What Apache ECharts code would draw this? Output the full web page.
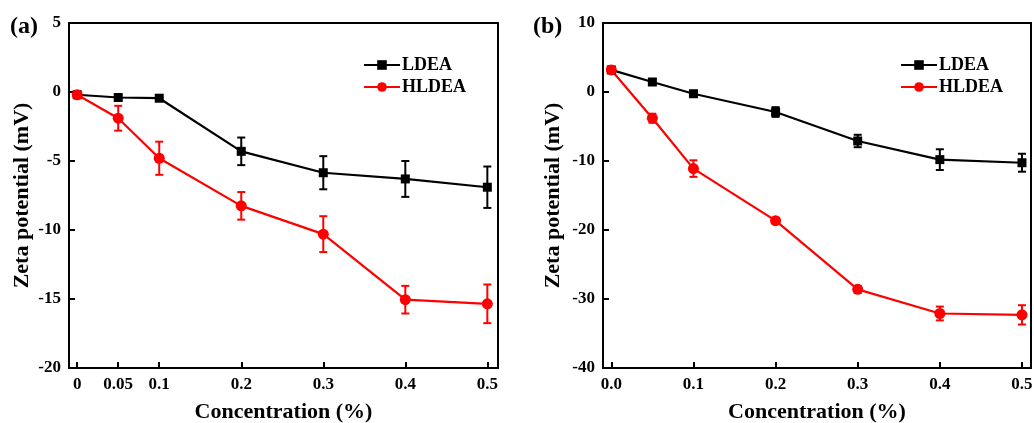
<!DOCTYPE html>
<html>
<head>
<meta charset="utf-8">
<title>Zeta potential</title>
<script src="https://cdn.jsdelivr.net/npm/echarts@6/dist/echarts.min.js"></script>
<style>
  html, body { margin: 0; padding: 0; background: #fff; }
  #chart { width: 1034px; height: 423px; }
</style>
</head>
<body>
<div id="chart"></div>
<script>
// panel (a)
var xA = [0, 0.05, 0.1, 0.2, 0.3, 0.4, 0.5];
var xTicksA = [0, 0.05, 0.1, 0.2, 0.3, 0.4, 0.5];
var ldeaA = [-0.2, -0.4, -0.45, -4.3, -5.85, -6.3, -6.9];
var ldeaAErr = [0.1, 0.15, 0.1, 1.0, 1.2, 1.3, 1.5];
var hldeaA = [-0.2, -1.9, -4.8, -8.25, -10.3, -15.05, -15.35];
var hldeaAErr = [0.1, 0.9, 1.2, 1.0, 1.3, 1.0, 1.4];

// panel (b)
var xB = [0, 0.05, 0.1, 0.2, 0.3, 0.4, 0.5];
var xTicksB = [0, 0.1, 0.2, 0.3, 0.4, 0.5];
var ldeaB = [3.2, 1.45, -0.25, -2.9, -7.1, -9.8, -10.25];
var ldeaBErr = [0.3, 0.4, 0.4, 0.7, 0.9, 1.5, 1.3];
var hldeaB = [3.2, -3.8, -11.1, -18.65, -28.6, -32.1, -32.3];
var hldeaBErr = [0.3, 0.65, 1.2, 0.4, 0.5, 1.0, 1.4];

var FONT = 'Liberation Serif';
var chart = echarts.init(document.getElementById('chart'));

function pts(xs, ys) {
    return xs.map(function (x, i) { return [x, ys[i]]; });
}
function errData(xs, ys, es) {
    return xs.map(function (x, i) { return [x, ys[i] - es[i], ys[i] + es[i]]; });
}
function errSeries(idx, xs, ys, es, color) {
    return {
        type: 'custom',
        xAxisIndex: idx,
        yAxisIndex: idx,
        z: 1,
        silent: true,
        encode: { x: 0, y: [1, 2] },
        data: errData(xs, ys, es),
        renderItem: function (params, api) {
            var x = api.value(0);
            var top = api.coord([x, api.value(2)]);
            var bot = api.coord([x, api.value(1)]);
            var cap = 4;
            var st = { stroke: color, lineWidth: 2 };
            return {
                type: 'group',
                children: [
                    { type: 'line', shape: { x1: top[0], y1: top[1], x2: bot[0], y2: bot[1] }, style: st },
                    { type: 'line', shape: { x1: top[0] - cap, y1: top[1], x2: top[0] + cap, y2: top[1] }, style: st },
                    { type: 'line', shape: { x1: bot[0] - cap, y1: bot[1], x2: bot[0] + cap, y2: bot[1] }, style: st }
                ]
            };
        }
    };
}
function lineSeries(idx, name, xs, ys, color, symbol, size) {
    return {
        name: name,
        type: 'line',
        xAxisIndex: idx,
        yAxisIndex: idx,
        z: 3,
        data: pts(xs, ys),
        symbol: symbol,
        symbolSize: size,
        showAllSymbol: true,
        lineStyle: { color: color, width: 2.2 },
        itemStyle: { color: color },
        animation: false
    };
}
function xAxisOf(idx, ticks, min, max, fmt) {
    return {
        type: 'value',
        gridIndex: idx,
        min: min,
        max: max,
        name: 'Concentration (%)',
        nameLocation: 'middle',
        nameGap: 33,
        nameTextStyle: { fontFamily: FONT, fontWeight: 'bold', fontSize: 22, color: '#000' },
        axisLine: { onZero: false, lineStyle: { color: '#000', width: 2 } },
        axisTick: { inside: true, length: 6, customValues: ticks, lineStyle: { color: '#000', width: 2 } },
        axisLabel: {
            customValues: ticks, margin: 8, color: '#000',
            fontFamily: FONT, fontWeight: 'bold', fontSize: 17,
            formatter: fmt
        },
        splitLine: { show: false }
    };
}
function yAxisOf(idx, min, max, interval, gap) {
    return {
        type: 'value',
        gridIndex: idx,
        min: min,
        max: max,
        interval: interval,
        name: 'Zeta potential (mV)',
        nameLocation: 'middle',
        nameGap: gap,
        nameTextStyle: { fontFamily: FONT, fontWeight: 'bold', fontSize: 22, color: '#000' },
        axisLine: { show: true, onZero: false, lineStyle: { color: '#000', width: 2 } },
        axisTick: { show: true, inside: true, length: 6, lineStyle: { color: '#000', width: 2 } },
        axisLabel: { margin: 8, color: '#000', fontFamily: FONT, fontWeight: 'bold', fontSize: 17 },
        splitLine: { show: false }
    };
}
function legendOf(idx, left) {
    return {
        orient: 'vertical',
        left: left,
        top: 51,
        itemWidth: 36,
        itemHeight: 12,
        itemGap: 4,
        data: idx === 0 ? ['LDEA', 'HLDEA'] : ['LDEA ', 'HLDEA '],
        textStyle: { fontFamily: FONT, fontWeight: 'bold', fontSize: 18, color: '#000', padding: [0, 0, 0, -3] }
    };
}

var option = {
    backgroundColor: '#fff',
    animation: false,
    title: [
        { text: '(a)', left: 5, top: 10, textStyle: { fontFamily: FONT, fontWeight: 'bold', fontSize: 24, color: '#000' } },
        { text: '(b)', left: 528, top: 10, textStyle: { fontFamily: FONT, fontWeight: 'bold', fontSize: 24, color: '#000' } }
    ],
    grid: [
        { left: 69, top: 23, width: 429, height: 345, outerBoundsMode: 'none', show: true, borderColor: '#000', borderWidth: 2 },
        { left: 603, top: 23, width: 428, height: 345, outerBoundsMode: 'none', show: true, borderColor: '#000', borderWidth: 2 }
    ],
    legend: [legendOf(0, 358), legendOf(1, 895)],
    xAxis: [
        xAxisOf(0, xTicksA, -0.01, 0.513, function (v) { return String(Math.round(v * 100) / 100); }),
        xAxisOf(1, xTicksB, -0.0101, 0.511, function (v) { return v.toFixed(1); })
    ],
    yAxis: [
        yAxisOf(0, -20, 5, 5, 36),
        yAxisOf(1, -40, 10, 10, 39)
    ],
    series: [
        errSeries(0, xA, ldeaA, ldeaAErr, '#000'),
        errSeries(0, xA, hldeaA, hldeaAErr, '#ff0000'),
        lineSeries(0, 'LDEA', xA, ldeaA, '#000', 'rect', 9),
        lineSeries(0, 'HLDEA', xA, hldeaA, '#ff0000', 'circle', 11),
        errSeries(1, xB, ldeaB, ldeaBErr, '#000'),
        errSeries(1, xB, hldeaB, hldeaBErr, '#ff0000'),
        lineSeries(1, 'LDEA ', xB, ldeaB, '#000', 'rect', 9),
        lineSeries(1, 'HLDEA ', xB, hldeaB, '#ff0000', 'circle', 11)
    ]
};
chart.setOption(option);
</script>
</body>
</html>
